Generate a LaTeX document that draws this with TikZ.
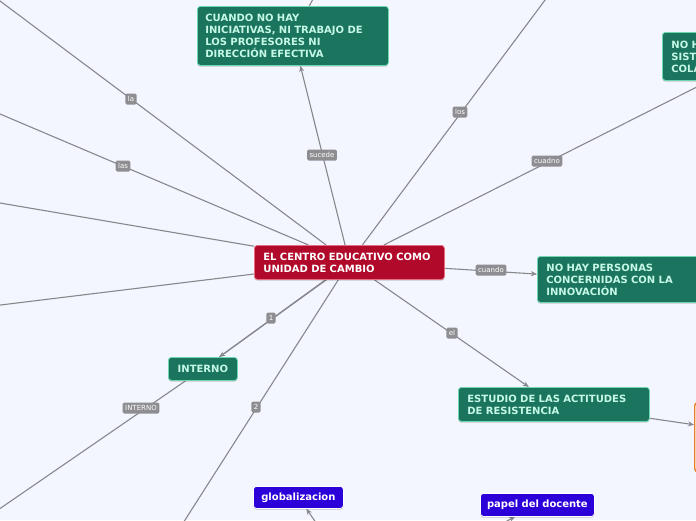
\documentclass[tikz,border=0pt]{standalone}
\usepackage{fontspec}
\setmainfont{DejaVu Sans}
\usetikzlibrary{arrows.meta,shadows}
\definecolor{bgc}{RGB}{243,246,254}
\definecolor{lgray}{RGB}{136,136,140}
\definecolor{lblgray}{RGB}{142,142,146}
\definecolor{redfill}{RGB}{177,9,42}
\definecolor{redborder}{RGB}{230,110,130}
\definecolor{gfill}{RGB}{26,116,94}
\definecolor{gborder}{RGB}{110,215,175}
\definecolor{gtext}{RGB}{198,248,230}
\definecolor{bfill}{RGB}{44,0,216}
\definecolor{ocol}{RGB}{232,128,40}
\pgfdeclarelayer{back}
\pgfdeclarelayer{lines}
\pgfsetlayers{back,lines,main}
\tikzset{
  box/.style={draw, rounded corners=3pt, anchor=north west, align=left,
    font=\bfseries\fontsize{10}{12}\selectfont, inner ysep=0pt, inner xsep=9pt,
    line width=0.8pt, drop shadow={shadow xshift=0pt,shadow yshift=-1.2pt,opacity=0.2,fill=black}},
  gbox/.style={box, fill=gfill, draw=gborder, text=gtext},
  rbox/.style={box, fill=redfill, draw=redborder, text=white},
  bbox/.style={box, fill=bfill, draw=white, text=white, align=center},
  obox/.style={box, fill=white, draw=ocol, line width=1.4pt},
  lbl/.style={fill=lblgray, text=white, rounded corners=1.5pt,
    font=\fontsize{7}{8}\selectfont, inner xsep=2.5pt, inner ysep=0pt, minimum height=11pt},
  conn/.style={draw=lgray, line width=1.1pt},
  arr/.style={conn, -{Stealth[length=6pt,width=5pt]}}
}
\begin{document}
\begin{tikzpicture}[x=1pt,y=1pt]
\begin{pgfonlayer}{back}
\fill[bgc] (0,0) rectangle (696,-520);
\end{pgfonlayer}
\useasboundingbox (0,0) rectangle (696,-520);

% main nodes
\node[rbox, text width=172pt, minimum height=34pt] (center) at (254,-245)
  {EL CENTRO EDUCATIVO COMO\\UNIDAD DE CAMBIO};
\node[gbox, inner xsep=8pt, text width=175pt, minimum height=59pt] (cuando1) at (197,-6)
  {CUANDO NO HAY\\INICIATIVAS, NI TRABAJO DE\\LOS PROFESORES NI\\DIRECCIÓN EFECTIVA};
\node[gbox, text width=172pt, minimum height=48pt] (noh) at (662,-32)
  {NO H\\SIST\\COLA};
\node[gbox, text width=152pt, minimum height=46pt] (nohay) at (537,-256)
  {NO HAY PERSONAS\\CONCERNIDAS CON LA\\INNOVACIÓN};
\node[gbox, align=center, text width=51pt, minimum height=23pt] (interno) at (168,-357)
  {INTERNO};
\node[gbox, text width=173pt, minimum height=34pt] (estudio) at (458,-387)
  {ESTUDIO DE LAS ACTITUDES\\DE RESISTENCIA};
\node[obox, text width=154pt, minimum height=69pt] (orange) at (694,-402) {};
\node[bbox, inner xsep=7pt, text width=76pt, minimum height=22pt] (glob) at (253,-486)
  {globalizacion};
\node[bbox, inner xsep=6pt, text width=102pt, minimum height=23pt] (papel) at (480,-493)
  {papel del docente};

% free ends
\coordinate (laEnd) at (-20,14);
\coordinate (lasEnd) at (-20,-105.5);
\coordinate (wThree) at (-20,-199.6);
\coordinate (wFour) at (-20,-307.5);
\coordinate (losEnd) at (560,20);
\coordinate (topEnd) at (318,10);
\coordinate (intEnd) at (-20,-522.3);
\coordinate (twoEnd) at (175,-535.7);
\coordinate (globSrc) at (326,-537);
\coordinate (papelSrc) at (481.5,-534.5);

\begin{pgfonlayer}{lines}
\draw[conn] (center) -- (laEnd);
\draw[conn] (center) -- (lasEnd);
\draw[conn] (center) -- (wThree);
\draw[conn] (center) -- (wFour);
\draw[arr] (center) -- (cuando1);
\draw[conn] (cuando1) -- (topEnd);
\draw[conn] (center) -- (losEnd);
\draw[conn] (center) -- (noh);
\draw[arr] (center) -- (nohay);
\draw[arr] (center) -- (estudio);
\draw[arr] (estudio) -- (orange);
\draw[arr] (center) -- (interno);
\draw[conn] ([xshift=2.5pt,yshift=1pt]center.center) -- (interno);
\draw[conn] (interno) -- (intEnd);
\draw[conn] (center) -- (twoEnd);
\draw[arr] (globSrc) -- (glob);
\draw[arr] (papelSrc) -- (papel);
\end{pgfonlayer}

% connector labels
\node[lbl] (lLa) at (131,-99) {la};
\node[lbl] (lLas) at (123,-166) {las};
\node[lbl] (lSucede) at (322,-155) {sucede};
\node[lbl] (lLos) at (460,-112) {los};
\node[lbl] (lCuadno) at (547,-161) {cuadno};
\node[lbl] (lCuando) at (491,-270) {cuando};
\node[lbl] (lEl) at (452,-333) {el};
\node[lbl] (lOne) at (271,-318) {1};
\node[lbl] (lInterno) at (141,-408) {INTERNO};
\node[lbl] (lTwo) at (256,-407) {2};
\end{tikzpicture}
\end{document}
